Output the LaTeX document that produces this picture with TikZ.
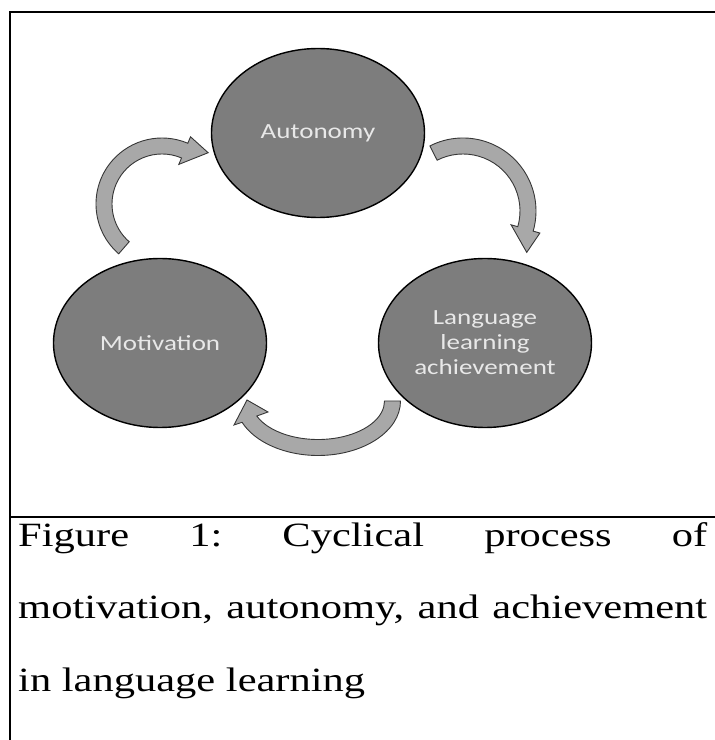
\documentclass[tikz,border=0pt]{standalone}
\usepackage{fontspec}
\setmainfont{Liberation Serif}
\newfontfamily\calib{Carlito}
\usetikzlibrary{shapes.geometric}

\definecolor{discgray}{RGB}{125,125,125}
\definecolor{arrowgray}{RGB}{168,168,168}
\definecolor{edgegray}{RGB}{55,55,55}
\definecolor{labelgray}{RGB}{232,232,232}

% everything is squashed vertically, the texts too
\newcommand{\flatlabel}[1]{\scalebox{1}[0.8]{#1}}
% a caption line spread over the full width
\newcommand{\fullline}[1]{\makebox[689pt][s]{#1}}

\frenchspacing

\begin{document}
\begin{tikzpicture}[x=1pt,y=1pt,node distance=325pt,
    stage/.style={ellipse,draw=black,line width=1.4pt,fill=discgray,
      minimum width=213pt,minimum height=169pt,inner sep=0pt,
      text=labelgray,align=center,font=\calib\fontsize{27}{25}\selectfont},
    cyclearrow/.style={fill=arrowgray,draw=edgegray,line width=0.9pt},
    captionline/.style={anchor=base west,inner sep=0pt,font=\fontsize{42.5}{51}\selectfont}]

  \useasboundingbox (0,0) rectangle (715,740);

  % box round the figure and its caption
  \draw[line width=1.6pt] (715,728) -- (10,728) -- (10,0);
  \draw[line width=1.6pt] (10,223) -- (715,223);

  \node[stage] (aut) at (318,607) {\flatlabel{Autonomy}};
  \node[stage] (mot) at (160,397) {\flatlabel{Motivation}};
  \node[stage] (ach) [right of=mot] {\flatlabel{Language}\\\flatlabel{learning}\\\flatlabel{achievement}};

  % motivation -> autonomy
  \begin{scope}[shift={(162,536)}]
    \draw[cyclearrow] (229:66) arc[start angle=229,end angle=67,radius=66]
      -- (67:73) -- (48:69) -- (67:43) -- (67:50)
      arc[start angle=67,end angle=229,radius=50] -- cycle;
  \end{scope}

  % autonomy -> achievement
  \begin{scope}[shift={(463,529)}]
    \draw[cyclearrow] (117:73) arc[start angle=117,end angle=-16,radius=73]
      -- (-16:80) -- (-33:76) -- (-16:50) -- (-16:57)
      arc[start angle=-16,end angle=117,radius=57] -- cycle;
  \end{scope}

  % achievement -> motivation
  \begin{scope}[shift={(318,339)}]
    \draw[cyclearrow] (0:82.5 and 54.5) arc[start angle=0,end angle=-157,x radius=82.5,y radius=54.5]
      -- (-84,-24) -- (-71,1) -- (-50,-11) -- (-157:66.5 and 38.5)
      arc[start angle=-157,end angle=0,x radius=66.5,y radius=38.5] -- cycle;
  \end{scope}

  % caption, justified
  \node[captionline] (cap1) at (18,193) {\flatlabel{\fullline{Figure 1: Cyclical process of}}};
  \node[captionline] (cap2) at (18,121) {\flatlabel{\fullline{motivation, autonomy, and achievement}}};
  \node[captionline] (cap3) at (18,48) {\flatlabel{in language learning}};

\end{tikzpicture}
\end{document}
